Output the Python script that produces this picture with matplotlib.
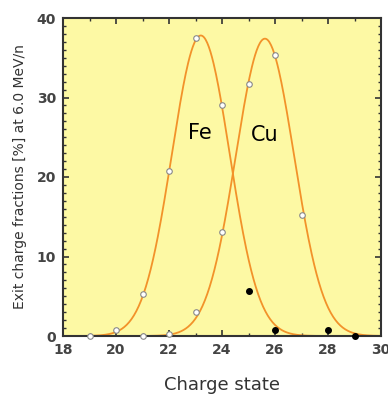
import numpy as np
import matplotlib
matplotlib.use('Agg')
import matplotlib.pyplot as plt
from matplotlib.ticker import MultipleLocator

# measured charge fractions (open circles)
fe_q = [19, 20, 21, 22, 23, 24]
fe_f = [0.0, 0.7, 5.3, 20.7, 37.5, 29.0]
cu_q = [21, 22, 23, 24, 25, 26, 27]
cu_f = [0.0, 0.3, 3.0, 13.1, 31.7, 35.4, 15.2]
# filled points
other_q = [25, 26, 28, 29]
other_f = [5.6, 0.7, 0.8, 0.0]

# gaussian fit parameters (peak, centre, sigma)
fe_fit = (37.8, 23.2, 1.09)
cu_fit = (37.4, 25.62, 1.10)

bg = '#fdf9a4'
orange = '#f2922a'

fig = plt.figure(figsize=(3.88, 3.96), dpi=100)
ax = fig.add_axes([63/388, 60/396, 318/388, 318/396])
ax.set_facecolor(bg)

xs = np.linspace(18, 30, 400)
for a, mu, s in [fe_fit, cu_fit]:
    ax.plot(xs, a*np.exp(-(xs-mu)**2/(2*s**2)), color=orange, lw=1.3, zorder=2)

ax.plot(fe_q, fe_f, 'o', ms=4, mfc='white', mec='#888888', mew=0.8, zorder=3, clip_on=False)
ax.plot(cu_q, cu_f, 'o', ms=4, mfc='white', mec='#888888', mew=0.8, zorder=3, clip_on=False)
ax.plot(other_q, other_f, 'o', ms=4, color='black', zorder=3, clip_on=False)

ax.text(23.17, 25.5, 'Fe', fontsize=15, ha='center', va='center')
ax.text(25.62, 25.3, 'Cu', fontsize=15, ha='center', va='center')

ax.set_xlim(18, 30)
ax.set_ylim(0, 40)
ax.xaxis.set_major_locator(MultipleLocator(2))
ax.xaxis.set_minor_locator(MultipleLocator(1))
ax.yaxis.set_major_locator(MultipleLocator(10))
ax.yaxis.set_minor_locator(MultipleLocator(1))
ax.tick_params(which='both', direction='in', top=True, right=True, color='#333333')
ax.tick_params(which='major', length=4, width=1.2, labelsize=10, labelcolor='#444444', pad=5)
ax.tick_params(which='minor', length=2.5, width=1)
for lab in ax.get_xticklabels() + ax.get_yticklabels():
    lab.set_fontweight('bold')
for sp in ax.spines.values():
    sp.set_linewidth(1.5)
    sp.set_color('#333333')

ax.set_xlabel('Charge state', fontsize=13, color='#333333', labelpad=14)
ax.set_ylabel('Exit charge fractions [%] at 6.0 MeV/n', fontsize=10, color='#333333', labelpad=7)

fig.savefig('out.png', dpi=100)
